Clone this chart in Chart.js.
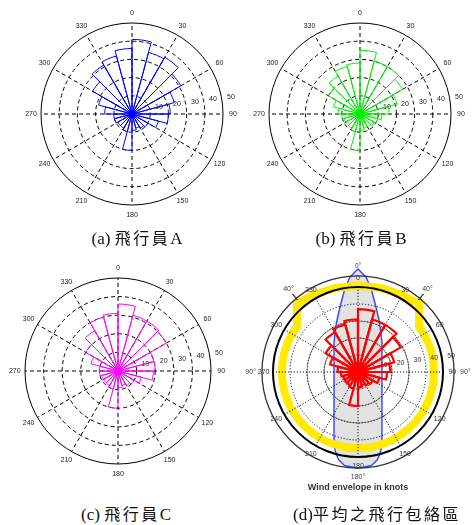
<!DOCTYPE html>
<html>
<head>
<meta charset="utf-8">
<script src="https://cdn.jsdelivr.net/npm/chart.js@4.4.1/dist/chart.umd.min.js"></script>
<style>
  html, body { margin: 0; padding: 0; background: #fff; }
  body { width: 475px; height: 525px; overflow: hidden; position: relative; }
  canvas { position: absolute; }
  .cap {
    position: absolute; white-space: nowrap; transform: translateX(-50%);
    font-family: "Liberation Serif", "Noto Sans CJK TC", serif;
    font-size: 17px; line-height: 20px; color: #111;
  }
  .cap .zh { font-family: "Noto Sans CJK TC", sans-serif; letter-spacing: 2.5px; font-size: 16px; }
  .note {
    position: absolute; white-space: nowrap; transform: translateX(-50%);
    font-family: "Liberation Sans", Arial, sans-serif; font-weight: bold;
    font-size: 9px; line-height: 11px; color: #333;
  }
</style>
</head>
<body>
<canvas id="roseA" width="240" height="240" style="left:12px;top:-6px"></canvas>
<canvas id="roseB" width="240" height="240" style="left:240px;top:-6px"></canvas>
<canvas id="roseC" width="240" height="240" style="left:-2px;top:251px"></canvas>
<canvas id="roseD" width="240" height="240" style="left:238px;top:252px"></canvas>

<div class="cap" style="left:137px;top:227px">(a) <span class="zh">飛行員</span>A</div>
<div class="cap" style="left:361px;top:227px">(b) <span class="zh">飛行員</span>B</div>
<div class="cap" style="left:126px;top:503px">(c) <span class="zh">飛行員</span>C</div>
<div class="cap" style="left:377px;top:503px">(d)<span class="zh">平均之飛行包絡區</span></div>
<div class="note" style="left:358px;top:482px">Wind envelope in knots</div>

<script>
// Direction bins (start bearing of each 15° sector, clockwise from north)
const directionBins = [0, 15, 30, 45, 60, 75, 90, 105, 120, 135, 150, 165,
                       180, 195, 210, 225, 240, 255, 270, 285, 300, 315, 330, 345];

// Wind-rose lengths per sector
const pilotA = [41, 35, 36, 31, 24, 21, 20, 15, 10, 9, 8, 9, 20, 10, 9, 9, 10, 10, 15, 19, 25, 31, 33, 36];
const pilotB = [35, 30, 30, 27, 21, 16, 12, 10, 9, 8, 8, 9, 20, 10, 9, 8, 9, 10, 12, 15, 20, 24, 27, 28];
const pilotC = [36, 31, 31, 30, 20, 20, 19, 13, 10, 9, 8, 9, 20, 10, 9, 9, 9, 10, 10, 15, 20, 25, 30, 31];
const pilotAverage = [37, 32, 32, 29, 22, 19, 17, 13, 10, 9, 8, 9, 20, 10, 9, 9, 9, 10, 12, 17, 22, 27, 29, 31];

// Axis tick labels
const radiusTicks = [10, 20, 30, 40, 50];
const compassTicks = [0, 30, 60, 90, 120, 150, 180, 210, 240, 270, 300, 330];
const compassTickLabels = ['0', '30', '60', '90', '120', '150', '180', '210', '240', '270', '300', '330'];

// Wind envelope outline (knots): crosswind / head-tail component, right half
const envelopeCross = [0, 4.7, 7.6, 10.3, 12.6, 14.1, 14.1, 13.4, 11.5, 8, 0];
const envelopeAlong = [60.6, 55.9, 49.4, 39.4, 29.4, 17.6, -40.6, -46.5, -51.5, -55, -56.6];

// Crosswind limit band: cap over the runway heading, ring elsewhere
const limitCapBearing = [-53.4, -41.9, -30, -15, 0, 15, 30, 41.9, 53.4];
const limitCapKnots = [44.7, 53.8, 52.4, 51.2, 50.9, 51.2, 52.4, 53.8, 44.7];
const limitRingKnots = 44.7;

// Outer compass ring labels of the envelope diagram
const outerBearings = [0, 320, 40, 270, 90, 180];
const outerLabels = ['0°', '40°', '40°', '90°', '90°', '180°'];
const outerRingKnots = 56.5;

const RAD = Math.PI / 180;

function polarXY(scale, bearing, value) {
  const d = scale.getDistanceFromCenterForValue(value);
  const a = bearing * RAD;
  return { x: scale.xCenter + d * Math.sin(a), y: scale.yCenter - d * Math.cos(a) };
}

function cartXY(scale, cross, along) {
  const k = scale.getDistanceFromCenterForValue(1) - scale.getDistanceFromCenterForValue(0);
  return { x: scale.xCenter + cross * k, y: scale.yCenter - along * k };
}

// Draws compass and ring labels, plus optional background artwork
const roseDecor = {
  id: 'roseDecor',
  beforeDraw(chart, args, opts) {
    if (opts.background) opts.background(chart);
  },
  beforeDatasetsDraw(chart, args, opts) {
    const r = chart.scales.r;
    const ctx = chart.ctx;
    ctx.save();
    ctx.font = opts.font;
    ctx.fillStyle = opts.textColor;
    ctx.textAlign = 'left';
    ctx.textBaseline = 'bottom';
    radiusTicks.forEach(v => {
      const p = polarXY(r, 82, v);
      ctx.fillText(String(v), p.x + 5, p.y - 1);
    });
    ctx.textAlign = 'center';
    ctx.textBaseline = 'middle';
    compassTicks.forEach((b, i) => {
      const p = polarXY(r, b, r.max * opts.labelFactor);
      ctx.fillText(compassTickLabels[i], p.x, p.y);
    });
    ctx.restore();
  }
};

function envelopeArtwork(chart) {
  const r = chart.scales.r;
  const ctx = chart.ctx;
  ctx.save();

  // runway wind envelope (grey with blue outline)
  ctx.beginPath();
  envelopeCross.forEach((c, i) => {
    const p = cartXY(r, c, envelopeAlong[i]);
    if (i === 0) ctx.moveTo(p.x, p.y); else ctx.lineTo(p.x, p.y);
  });
  for (let i = envelopeCross.length - 1; i >= 0; i--) {
    const p = cartXY(r, -envelopeCross[i], envelopeAlong[i]);
    ctx.lineTo(p.x, p.y);
  }
  ctx.closePath();
  ctx.fillStyle = '#e2e2e2';
  ctx.fill();
  ctx.strokeStyle = '#3344ff';
  ctx.lineWidth = 1.4;
  ctx.lineJoin = 'round';
  ctx.stroke();

  // crosswind limit band (yellow)
  ctx.beginPath();
  limitCapBearing.forEach((b, i) => {
    const p = polarXY(r, b, limitCapKnots[i]);
    if (i === 0) ctx.moveTo(p.x, p.y); else ctx.lineTo(p.x, p.y);
  });
  const ringR = r.getDistanceFromCenterForValue(limitRingKnots);
  const last = limitCapBearing[limitCapBearing.length - 1];
  const first = limitCapBearing[0] + 360;
  ctx.arc(r.xCenter, r.yCenter, ringR, (last - 90) * RAD, (first - 90) * RAD, false);
  ctx.closePath();
  ctx.strokeStyle = '#ffea00';
  ctx.lineWidth = 8;
  ctx.lineJoin = 'miter';
  ctx.stroke();

  // outer compass ring with 40° ticks
  const outerR = r.getDistanceFromCenterForValue(outerRingKnots);
  ctx.beginPath();
  ctx.arc(r.xCenter, r.yCenter, outerR, 0, Math.PI * 2);
  ctx.strokeStyle = '#333';
  ctx.lineWidth = 1.3;
  ctx.stroke();
  [40, 320].forEach(b => {
    const a = b * RAD;
    ctx.beginPath();
    ctx.moveTo(r.xCenter + (outerR - 2) * Math.sin(a), r.yCenter - (outerR - 2) * Math.cos(a));
    ctx.lineTo(r.xCenter + (outerR + 6) * Math.sin(a), r.yCenter - (outerR + 6) * Math.cos(a));
    ctx.stroke();
  });
  ctx.font = '7px "Liberation Sans", Arial, sans-serif';
  ctx.fillStyle = '#444';
  ctx.textAlign = 'center';
  ctx.textBaseline = 'middle';
  outerBearings.forEach((b, i) => {
    const a = b * RAD;
    const w = ctx.measureText(outerLabels[i]).width / 2;
    const d = outerR + 6 + Math.abs(Math.sin(a)) * w + Math.abs(Math.cos(a)) * 3.5;
    ctx.fillText(outerLabels[i], r.xCenter + d * Math.sin(a), r.yCenter - d * Math.cos(a));
  });

  // light background rings
  [20, 30].forEach(v => {
    ctx.beginPath();
    ctx.arc(r.xCenter, r.yCenter, r.getDistanceFromCenterForValue(v), 0, Math.PI * 2);
    ctx.strokeStyle = '#777';
    ctx.lineWidth = 0.8;
    ctx.stroke();
  });
  ctx.restore();
}

function makeRose(id, values, color, cfg) {
  return new Chart(document.getElementById(id), {
    type: 'polarArea',
    data: {
      labels: directionBins.map(String),
      datasets: [{
        data: values,
        backgroundColor: 'rgba(0,0,0,0)',
        borderColor: color,
        borderWidth: cfg.barWidth,
        borderAlign: 'center',
        borderJoinStyle: 'miter'
      }]
    },
    options: {
      responsive: false,
      animation: false,
      layout: { padding: cfg.pad },
      plugins: {
        legend: { display: false },
        tooltip: { enabled: false },
        roseDecor: {
          font: '7px "Liberation Sans", Arial, sans-serif',
          textColor: cfg.textColor,
          labelFactor: 1.11,
          background: cfg.background
        }
      },
      scales: {
        r: {
          min: 0, max: 50,
          ticks: { display: false, stepSize: 10 },
          pointLabels: { display: false },
          grid: {
            circular: true,
            color: c => (c.tick && c.tick.value === 50) ? '#000' : cfg.gridColor,
            lineWidth: c => (c.tick && c.tick.value === 50) ? cfg.outerWidth : 1
          },
          border: { dash: c => (c.tick && c.tick.value === 50) ? [] : cfg.dash },
          angleLines: {
            display: true,
            color: cfg.gridColor,
            lineWidth: c => c.index % 2 === 0 ? 1 : 0,
            borderDash: cfg.dash
          }
        }
      }
    },
    plugins: [roseDecor]
  });
}

const plain = { pad: 29, barWidth: 1, textColor: '#222', gridColor: '#000', outerWidth: 1, dash: [4, 3] };
makeRose('roseA', pilotA, '#0000ff', plain);
makeRose('roseB', pilotB, '#00ee00', plain);
makeRose('roseC', pilotC, '#ff00ff', Object.assign({}, plain, { pad: 27 }));
makeRose('roseD', pilotAverage, '#ff0000', {
  pad: 35, barWidth: 2.2, textColor: '#333', gridColor: '#111', outerWidth: 2,
  dash: [1.2, 1.8], background: envelopeArtwork
});
</script>
</body>
</html>
